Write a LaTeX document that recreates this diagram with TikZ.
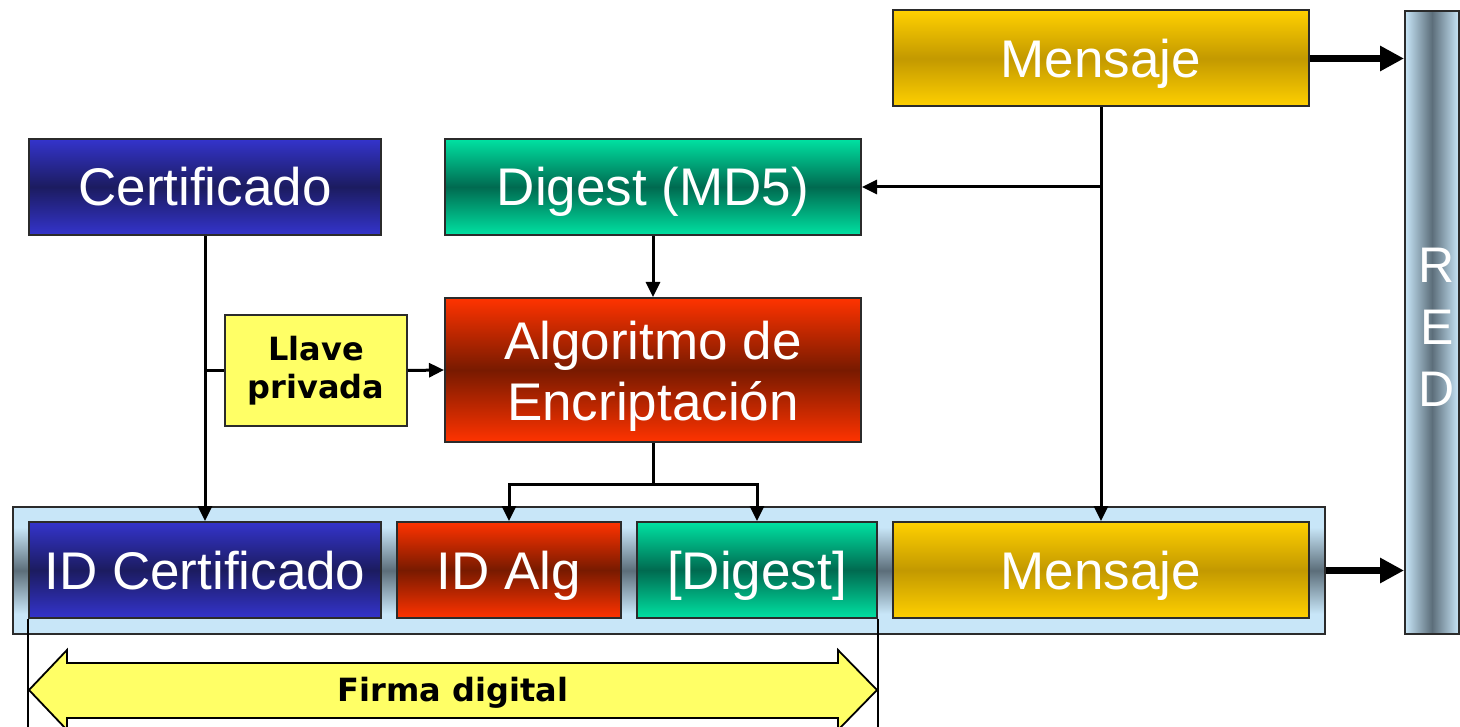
\documentclass[tikz,border=0pt]{standalone}
\usepackage{fontspec}
\setmainfont{Liberation Sans}
\newfontfamily\vbfont{DejaVu Sans}
\usetikzlibrary{arrows.meta,calc}
\definecolor{lb}{HTML}{C8E6F8}
\definecolor{slate}{HTML}{5C6E7A}
\definecolor{blT}{HTML}{3434CC}
\definecolor{blM}{HTML}{1C1C60}
\definecolor{rdT}{HTML}{FF3300}
\definecolor{rdM}{HTML}{781A00}
\definecolor{tlT}{HTML}{00E2A2}
\definecolor{tlM}{HTML}{006A50}
\definecolor{gdT}{HTML}{FFD000}
\definecolor{gdM}{HTML}{C39900}
\definecolor{yel}{HTML}{FFFF66}
\definecolor{bord}{HTML}{2B2B2B}
\pgfdeclareverticalshading{contsh}{100bp}{color(0bp)=(lb); color(33bp)=(lb); color(50bp)=(slate); color(67bp)=(lb); color(100bp)=(lb)}
\begin{document}
\begin{tikzpicture}[x=1pt,y=-1pt,
  gbox/.style 2 args={draw=bord, line width=2pt, inner sep=0pt, top color=#1, bottom color=#1, middle color=#2,
     text=white, font=\fontsize{53}{61}\selectfont, align=center, text height=38pt, text depth=0pt},
  wtext/.style={text=white, font=\fontsize{53}{61}\selectfont, align=center, inner sep=0pt},
  conn/.style={line width=3pt, draw=black},
  tri/.style={-{Triangle[length=15pt,width=14pt]}},
  thick arr/.style={line width=6.5pt, -{Triangle[length=24pt,width=24pt]}},
  vlabel/.style={font=\vbfont\bfseries\fontsize{32}{38}\selectfont, align=center, text=black}]
\clip (0,0) rectangle (1460,727);
\fill[white] (0,0) rectangle (1460,727);

% container
\node[draw=bord, line width=2pt, shading=contsh, minimum width=1312pt, minimum height=127pt, inner sep=0pt] (cont) at (669,570.5) {};

% top boxes
\node[gbox={gdT}{gdM}, minimum width=416pt, minimum height=96pt] (msg1) at (1101,58.5) {Mensaje};
\node[gbox={blT}{blM}, minimum width=352pt, minimum height=96pt] (cert) at (205,187) {Certificado};
\node[gbox={tlT}{tlM}, minimum width=416pt, minimum height=96pt] (dig) at (653,187) {Digest (MD5)};
\node[gbox={rdT}{rdM}, minimum width=416pt, minimum height=144pt] (alg) at (653,370) {};
\node[wtext] (algtxt) at ($(alg.center)+(0,6)$) {Algoritmo de\\Encriptación};
\node[draw=bord, line width=1.5pt, fill=yel, minimum width=182pt, minimum height=111pt, inner sep=0pt, vlabel] (llave) at (316,370.5) {Llave\\privada};

% bottom boxes
\node[gbox={blT}{blM}, minimum width=352pt, minimum height=96pt] (idcert) at (205,570) {ID Certificado};
\node[gbox={rdT}{rdM}, minimum width=224pt, minimum height=96pt] (idalg) at (509,570) {ID Alg};
\node[gbox={tlT}{tlM}, minimum width=240pt, minimum height=96pt] (dg) at (757,570) {[Digest]};
\node[gbox={gdT}{gdM}, minimum width=416pt, minimum height=96pt] (msg2) at (1101,570) {Mensaje};

% RED bar
\node[draw=bord, line width=2pt, inner sep=0pt, left color=lb, right color=lb, middle color=slate,
      minimum width=54pt, minimum height=623pt] (red) at (1432,322.5) {};
\node[text=white, align=center, inner sep=0pt, font=\fontsize{50}{62}\selectfont] (redtxt) at (1437,327) {R\\E\\D};

% connectors
\coordinate (j1) at (msg1.south |- dig.east);
\draw[conn,tri] (msg1.south) -- (msg2.north);
\draw[conn,tri] (j1) -- (dig.east);
\draw[conn,tri] (dig.south) -- (alg.north);
\coordinate (j2) at (cert.south |- llave.west);
\draw[conn,tri] (cert.south) -- (idcert.north);
\draw[conn] (j2) -- (llave.west);
\draw[conn,tri] (llave.east) -- (alg.west);
\coordinate (j3) at ($(alg.south)+(0,41)$);
\draw[conn] (alg.south) -- (j3);
\draw[conn,tri] (j3) -| (idalg.north);
\draw[conn,tri] (j3) -| (dg.north);

\draw[thick arr] (msg1.east) -- (red.west |- msg1.east);
\draw[thick arr] (cont.east) -- (red.west |- cont.east);

% Firma digital
\coordinate (fb) at (0,727);
\draw[line width=1.5pt] (idcert.south west) -- (idcert.south west |- fb);
\draw[line width=1.5pt] (dg.south east) -- (dg.south east |- fb);
\draw[line width=1.8pt, fill=yel, line join=miter]
  (29,690) -- (67,650) -- (67,663) -- (838,663) -- (838,650) -- (877,690) -- (838,730) -- (838,718) -- (67,718) -- (67,730) -- cycle;
\node[vlabel] (firma) at (453,693) {Firma digital};
\end{tikzpicture}
\end{document}
